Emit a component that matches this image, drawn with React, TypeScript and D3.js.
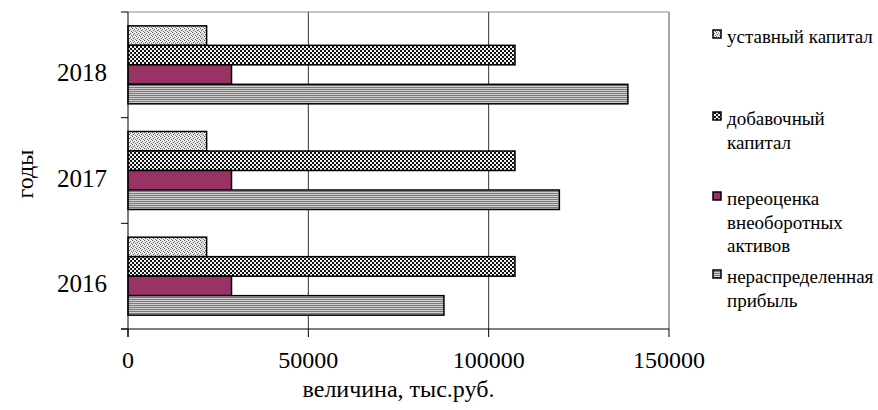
import * as d3 from "d3";

const years = ["2018", "2017", "2016"];
const seriesNames = [
	"уставный капитал",
	"добавочный капитал",
	"переоценка внеоборотных активов",
	"нераспределенная прибыль",
];
// values in order 2018, 2017, 2016
const ustavny = [21800, 21800, 21800];
const dobavochny = [107300, 107300, 107300];
const pereocenka = [28700, 28700, 28700];
const neraspr = [138600, 119600, 87600];
const xTicks = [0, 50000, 100000, 150000];

const legendLines = [
	["уставный капитал"],
	["добавочный", "капитал"],
	["переоценка", "внеоборотных", "активов"],
	["нераспределенная", "прибыль"],
];
const legendTop = [43, 125, 205, 283];

const fills = ["url(#pDots)", "url(#pCheck)", "#993366", "url(#pLines)"];
const serif = { fontFamily: "Liberation Serif, DejaVu Serif, Times New Roman, serif" };

function App() {
	const width = 878;
	const height = 410;
	const left = 128;
	const right = 669;
	const top = 12;
	const bottom = 329;

	const x = d3.scaleLinear().domain([0, 150000]).range([left, right]);
	const y = d3.scaleBand().domain(years).range([top, bottom]);
	const inner = d3
		.scaleBand()
		.domain(seriesNames)
		.range([0, y.bandwidth()])
		.paddingInner(0)
		.paddingOuter(0.71);

	const values = [ustavny, dobavochny, pereocenka, neraspr];
	const bounds = [top, ...years.map((yr) => (y(yr) as number) + y.bandwidth())];

	return (
		<div style={{ position: "fixed", left: 0, top: 0 }}>
			<svg width={width} height={height} style={{ display: "block", background: "#fff" }}>
				<defs>
					<pattern id="pDots" width="4" height="4" patternUnits="userSpaceOnUse">
						<rect width="4" height="4" fill="#e6e6e6" />
						<rect x="0" y="0" width="1" height="1" fill="#555" />
						<rect x="2" y="1" width="1" height="1" fill="#777" />
						<rect x="1" y="2" width="1" height="1" fill="#555" />
						<rect x="3" y="3" width="1" height="1" fill="#777" />
						<rect x="3" y="0" width="1" height="1" fill="#fff" />
						<rect x="1" y="1" width="1" height="1" fill="#fff" />
					</pattern>
					<pattern id="pCheck" width="4" height="4" patternUnits="userSpaceOnUse">
						<rect width="4" height="4" fill="#111" />
						<rect x="0" y="0" width="2" height="2" fill="#f4f4f4" />
						<rect x="2" y="2" width="2" height="2" fill="#f4f4f4" />
					</pattern>
					<pattern id="pLines" width="4" height="2" patternUnits="userSpaceOnUse">
						<rect width="4" height="2" fill="#d0d0d0" />
						<rect y="1" width="4" height="1" fill="#7a7a7a" />
					</pattern>
				</defs>

				{/* plot frame */}
				<line x1={left} x2={right} y1={top} y2={top} stroke="#8a8a8a" strokeWidth={1.2} />
				<line x1={right} x2={right} y1={top} y2={bottom} stroke="#8a8a8a" strokeWidth={1.5} />

				{/* gridlines */}
				{xTicks.slice(1, -1).map((t) => (
					<line key={t} x1={x(t)} x2={x(t)} y1={top} y2={bottom} stroke="#333" strokeWidth={1} />
				))}

				{/* bars */}
				{years.map((yr, yi) => (
					<g key={yr}>
						{seriesNames.map((s, si) => (
							<rect
								key={s}
								x={x(0)}
								y={(y(yr) as number) + (inner(s) as number)}
								width={x(values[si][yi]) - x(0)}
								height={inner.bandwidth()}
								fill={fills[si]}
								stroke="#000"
								strokeWidth={1.5}
							/>
						))}
					</g>
				))}

				{/* axes */}
				<line x1={left} x2={left} y1={top} y2={bottom + 8} stroke="#000" strokeWidth={1} />
				<line x1={left - 7} x2={right} y1={bottom} y2={bottom} stroke="#000" strokeWidth={1} />
				{bounds.map((b, i) => (
					<line key={i} x1={left - 7} x2={left} y1={b} y2={b} stroke="#000" strokeWidth={1} />
				))}
				{xTicks.map((t) => (
					<line key={t} x1={x(t)} x2={x(t)} y1={bottom} y2={bottom + 8} stroke="#000" strokeWidth={1} />
				))}

				{/* tick labels */}
				{xTicks.map((t) => (
					<text key={t} x={x(t)} y={368} textAnchor="middle" style={serif} fontSize={24} fill="#000">
						{String(t)}
					</text>
				))}
				{years.map((yr) => (
					<text
						key={yr}
						x={107}
						y={(y(yr) as number) + y.bandwidth() / 2 + 16}
						textAnchor="end"
						style={serif}
						fontSize={25}
						fill="#000"
					>
						{yr}
					</text>
				))}

				{/* axis titles */}
				<text x={(left + right) / 2} y={397} textAnchor="middle" style={serif} fontSize={24} fill="#000">
					величина, тыс.руб.
				</text>
				<text
					transform={`translate(33, 174) rotate(-90)`}
					textAnchor="middle"
					style={serif}
					fontSize={24}
					fill="#000"
				>
					годы
				</text>

				{/* legend */}
				{legendLines.map((lines, i) => (
					<g key={i}>
						<rect
							x={713}
							y={legendTop[i] - 13}
							width={8}
							height={8}
							fill={fills[i]}
							stroke="#000"
							strokeWidth={1.5}
						/>
						{lines.map((ln, j) => (
							<text
								key={j}
								x={727}
								y={legendTop[i] + j * 23.5}
								style={serif}
								fontSize={19}
								fill="#000"
							>
								{ln}
							</text>
						))}
					</g>
				))}
			</svg>
		</div>
	);
}

export default App;
